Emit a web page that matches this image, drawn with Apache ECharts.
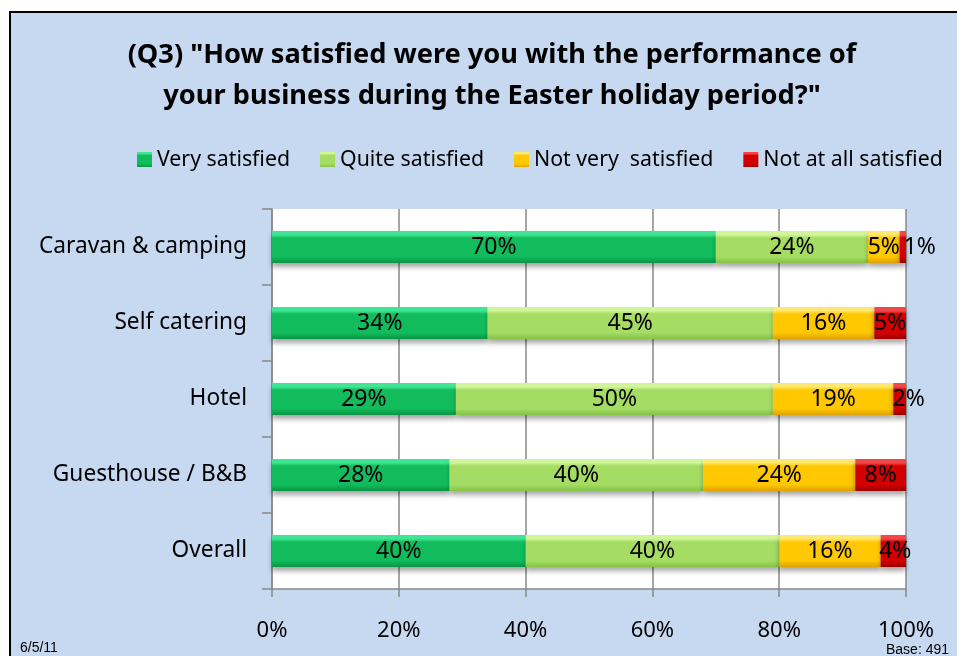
<!DOCTYPE html>
<html>
<head>
<meta charset="utf-8">
<script src="https://cdn.jsdelivr.net/npm/echarts@6/dist/echarts.min.js"></script>
<style>
	html, body { margin: 0; padding: 0; width: 957px; height: 656px; overflow: hidden; background: #fff; }
	#panel { position: absolute; left: 9px; top: 11px; width: 1000px; height: 700px;
		background: #c6d9f1; border-left: 2px solid #000; border-top: 2px solid #000; }
	#chart { position: absolute; left: 0; top: 0; width: 957px; height: 656px; }
</style>
</head>
<body>
<div id="panel"></div>
<div id="chart"></div>
<script>
// categories, top to bottom
var categories = ['Caravan & camping', 'Self catering', 'Hotel', 'Guesthouse / B&B', 'Overall'];

// percentages per series
var verySatisfied = [70, 34, 29, 28, 40];
var quiteSatisfied = [24, 45, 50, 40, 40];
var notVerySatisfied = [5, 16, 19, 24, 16];
var notAtAllSatisfied = [1, 5, 2, 8, 4];

var xTicks = [0, 20, 40, 60, 80, 100];

var chart = echarts.init(document.getElementById('chart'));

// bevelled bar look
var grad = (top, mid, bottom) => new echarts.graphic.LinearGradient(0, 0, 0, 1, [
	{ offset: 0, color: top },
	{ offset: 0.12, color: top },
	{ offset: 0.22, color: mid },
	{ offset: 0.8, color: mid },
	{ offset: 1, color: bottom }
]);

var font = '"Noto Sans", "Open Sans", sans-serif';

var makeSeries = (name, data, fill, labelShift) => ({
	name: name,
	type: 'bar',
	stack: 'total',
	barWidth: 32,
	data: data.map((v, i) => labelShift && labelShift[i]
		? { value: v, label: { offset: [labelShift[i], 0] } }
		: v),
	itemStyle: {
		color: fill,
		shadowColor: 'rgba(0,0,0,0.35)',
		shadowBlur: 5,
		shadowOffsetY: 4
	},
	label: {
		show: true,
		position: 'inside',
		formatter: '{c}%',
		color: '#000',
		fontSize: 23,
		fontFamily: font
	}
});

var option = {
	animation: false,
	title: {
		text: '(Q3) "How satisfied were you with the performance of\nyour business during the Easter holiday period?"',
		left: 487,
		textAlign: 'center',
		top: 30,
		textStyle: { fontSize: 27.2, fontWeight: 'bold', color: '#000', lineHeight: 41, fontFamily: font }
	},
	legend: {
		left: 132,
		top: 144,
		icon: 'rect',
		itemWidth: 15,
		itemHeight: 15,
		itemGap: 30,
		textStyle: { fontSize: 21.3, color: '#000', fontFamily: font },
		data: ['Very satisfied', 'Quite satisfied', 'Not very  satisfied', 'Not at all satisfied']
	},
	grid: {
		left: 272,
		right: 51,
		top: 209,
		bottom: 67,
		show: true,
		backgroundColor: '#fff',
		borderWidth: 0
	},
	xAxis: {
		type: 'value',
		min: 0,
		max: 100,
		interval: 20,
		axisLine: { show: true, lineStyle: { color: '#888', width: 1.5 } },
		axisTick: { show: true, length: 8, lineStyle: { color: '#888', width: 1.5 } },
		splitLine: { show: true, lineStyle: { color: '#888', width: 1.5 } },
		axisLabel: {
			margin: 31,
			fontSize: 22,
			color: '#000',
			fontFamily: font,
			formatter: v => xTicks.indexOf(v) >= 0 ? v + '%' : ''
		}
	},
	yAxis: {
		type: 'category',
		inverse: true,
		data: categories,
		axisLine: { show: true, lineStyle: { color: '#888', width: 1.5 } },
		axisTick: { show: true, length: 10, lineStyle: { color: '#888', width: 1.5 } },
		axisLabel: { margin: 25, fontSize: 22.7, color: '#000', fontFamily: font }
	},
	graphic: [
		{ type: 'text', left: 20, top: 641, style: { text: '6/5/11', fontSize: 14, fill: '#000', fontFamily: 'Liberation Sans, Arial' } },
		{ type: 'text', left: 886, top: 643, style: { text: 'Base: 491', fontSize: 14, fill: '#000', fontFamily: 'Liberation Sans, Arial' } }
	],
	series: [
		makeSeries('Very satisfied', verySatisfied, grad('#3fe592', '#12bb5c', '#0a9445')),
		makeSeries('Quite satisfied', quiteSatisfied, grad('#d2f59a', '#a5dc63', '#84c248')),
		makeSeries('Not very  satisfied', notVerySatisfied, grad('#ffe870', '#ffc800', '#e0a200')),
		makeSeries('Not at all satisfied', notAtAllSatisfied, grad('#f04848', '#d40000', '#9a0000'), [17, 0, 9, 0, 2])
	]
};

chart.setOption(option);
</script>
</body>
</html>
